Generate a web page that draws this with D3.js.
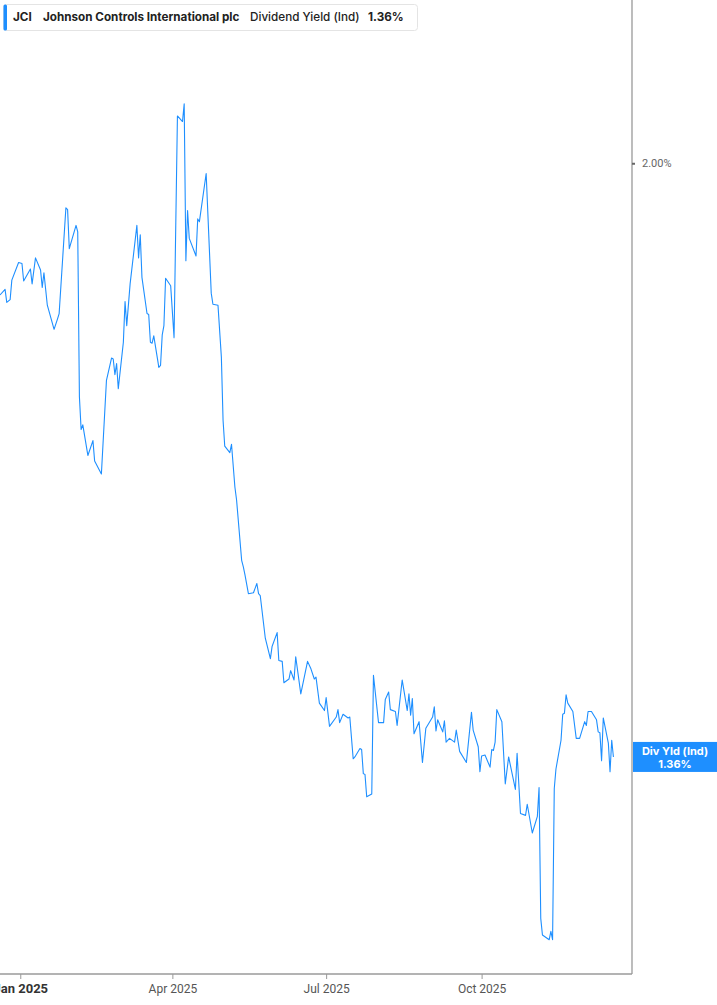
<!DOCTYPE html>
<html>
<head>
<meta charset="utf-8">
<script src="https://cdn.jsdelivr.net/npm/d3@7"></script>
<style>
  body { margin: 0; background: #fff; }
  svg { display: block; }
  .hdr { font-family: Inter, "Noto Sans", sans-serif; font-size: 11.7px; fill: #222; }
  .axisLabel { font-family: "Liberation Sans Narrow", Roboto, sans-serif; font-size: 12px; fill: #555; }
</style>
</head>
<body>
<script>
// Step 1: chart data
// =================================
var dates = [
  "2024-12-20","2024-12-23","2024-12-24","2024-12-26","2024-12-27","2024-12-31",
  "2025-01-02","2025-01-03","2025-01-07","2025-01-08","2025-01-10","2025-01-13","2025-01-14","2025-01-15",
  "2025-01-17","2025-01-21","2025-01-23","2025-01-24","2025-01-28","2025-01-29","2025-01-30",
  "2025-02-03","2025-02-04","2025-02-05","2025-02-06","2025-02-07","2025-02-10","2025-02-13","2025-02-14",
  "2025-02-18","2025-02-21","2025-02-24","2025-02-25","2025-02-26","2025-02-27","2025-02-28",
  "2025-03-03","2025-03-04","2025-03-05","2025-03-07","2025-03-11","2025-03-12","2025-03-13","2025-03-14",
  "2025-03-17","2025-03-18","2025-03-19","2025-03-20","2025-03-21","2025-03-24","2025-03-25","2025-03-26",
  "2025-03-27","2025-03-28","2025-03-31",
  "2025-04-02","2025-04-04","2025-04-07","2025-04-08","2025-04-09","2025-04-10","2025-04-11","2025-04-15",
  "2025-04-16","2025-04-17","2025-04-21","2025-04-24","2025-04-25","2025-04-28","2025-04-30",
  "2025-05-01","2025-05-02","2025-05-05","2025-05-06","2025-05-08","2025-05-09","2025-05-12","2025-05-13",
  "2025-05-14","2025-05-16","2025-05-19","2025-05-20","2025-05-21","2025-05-22","2025-05-23","2025-05-26",
  "2025-05-29","2025-05-30",
  "2025-06-02","2025-06-03","2025-06-05","2025-06-06","2025-06-09","2025-06-10","2025-06-12","2025-06-13",
  "2025-06-16","2025-06-20","2025-06-22","2025-06-24","2025-06-25","2025-06-27","2025-06-30",
  "2025-07-01","2025-07-03","2025-07-07","2025-07-08","2025-07-09","2025-07-11","2025-07-14","2025-07-15",
  "2025-07-17","2025-07-18","2025-07-21","2025-07-22","2025-07-23","2025-07-24","2025-07-25","2025-07-28",
  "2025-07-29",
  "2025-08-01","2025-08-04","2025-08-05","2025-08-07","2025-08-08","2025-08-11","2025-08-12","2025-08-15",
  "2025-08-18","2025-08-19","2025-08-20","2025-08-21","2025-08-22","2025-08-25","2025-08-27","2025-08-29",
  "2025-09-02","2025-09-03","2025-09-04","2025-09-05","2025-09-08","2025-09-09","2025-09-10","2025-09-12",
  "2025-09-15","2025-09-16","2025-09-18","2025-09-22","2025-09-25","2025-09-26","2025-09-29","2025-09-30",
  "2025-10-01","2025-10-03","2025-10-06","2025-10-07","2025-10-08","2025-10-09","2025-10-10","2025-10-13",
  "2025-10-15","2025-10-17","2025-10-21","2025-10-22","2025-10-24","2025-10-27","2025-10-28","2025-10-31",
  "2025-11-03","2025-11-04","2025-11-05","2025-11-06","2025-11-10","2025-11-11","2025-11-12","2025-11-13",
  "2025-11-14","2025-11-17","2025-11-18","2025-11-19","2025-11-20","2025-11-21","2025-11-24","2025-11-26",
  "2025-11-28",
  "2025-12-01","2025-12-02","2025-12-03","2025-12-05","2025-12-08","2025-12-09","2025-12-10","2025-12-11",
  "2025-12-12","2025-12-15","2025-12-16","2025-12-17","2025-12-18"
];

var yields = [
  1.858,1.864,1.850,1.853,1.874,1.893,
  1.892,1.873,1.886,1.870,1.898,1.885,1.866,1.882,
  1.847,1.821,1.832,1.838,1.952,1.950,1.908,
  1.933,1.926,1.748,1.713,1.718,1.685,1.701,1.679,
  1.665,1.766,1.790,1.789,1.772,1.784,1.757,
  1.807,1.851,1.825,1.870,1.933,1.898,1.923,1.877,
  1.838,1.837,1.807,1.806,1.814,1.780,1.782,1.815,
  1.825,1.876,1.868,
  1.812,2.051,2.045,2.064,1.895,1.949,1.919,1.900,
  1.940,1.937,1.989,1.860,1.848,1.847,1.791,
  1.723,1.695,1.688,1.697,1.651,1.637,1.572,1.565,
  1.556,1.536,1.537,1.542,1.547,1.536,1.534,1.488,
  1.466,1.479,
  1.494,1.464,1.463,1.440,1.444,1.453,1.443,1.468,
  1.428,1.463,1.455,1.444,1.446,1.418,1.410,
  1.424,1.393,1.403,1.411,1.397,1.406,1.402,1.403,
  1.358,1.360,1.369,1.368,1.342,1.341,1.317,1.320,
  1.448,
  1.397,1.397,1.422,1.430,1.411,1.409,1.394,1.443,
  1.410,1.428,1.405,1.423,1.385,1.398,1.354,1.391,
  1.403,1.414,1.388,1.400,1.387,1.399,1.376,1.380,
  1.376,1.389,1.366,1.354,1.408,1.389,1.371,1.344,
  1.361,1.362,1.349,1.368,1.367,1.376,1.411,1.398,
  1.331,1.360,1.325,1.364,1.299,1.297,1.309,1.278,
  1.296,1.327,1.186,1.168,1.163,1.172,1.163,1.326,
  1.347,1.378,1.406,1.407,1.427,1.418,1.409,1.380,
  1.380,
  1.398,1.394,1.409,1.409,1.400,1.387,1.386,1.356,
  1.402,1.375,1.344,1.378,1.360
];

var xTickDates = ["2025-01-01", "2025-04-01", "2025-07-01", "2025-10-01"];
var xTickLabels = ["Jan 2025", "Apr 2025", "Jul 2025", "Oct 2025"];
var yTicks = [2.00];
var lastValue = 1.36;

// Step 2: set up the svg
// =================================
var svgWidth = 717;
var svgHeight = 1005;
var plotRight = 632;
var plotBottom = 974;

var parseDate = d3.timeParse("%Y-%m-%d");

var data = dates.map(function(d, i) {
  return { date: parseDate(d), value: yields[i] };
});

var svg = d3.select("body")
  .append("svg")
  .attr("width", svgWidth)
  .attr("height", svgHeight);

// Step 3: scales
// =================================
var xTimeScale = d3.scaleTime()
  .domain([parseDate("2024-12-20"), parseDate("2025-12-29")])
  .range([0, plotRight]);

var yLinearScale = d3.scaleLinear()
  .domain([1.126, 2.176])
  .range([plotBottom, 0]);

// Step 4: axes
// =================================
var bottomAxis = d3.axisBottom(xTimeScale)
  .tickValues(xTickDates.map(parseDate))
  .tickSize(5)
  .tickFormat(function(d, i) { return xTickLabels[i]; });

var xAxisGroup = svg.append("g")
  .attr("transform", `translate(0, ${plotBottom})`)
  .call(bottomAxis);

xAxisGroup.select(".domain")
  .attr("stroke", "#b3b3b3")
  .attr("stroke-width", 2)
  .attr("d", `M0,0H${plotRight}`);

xAxisGroup.selectAll(".tick line")
  .attr("stroke", "#999");

xAxisGroup.selectAll(".tick text")
  .attr("class", "axisLabel")
  .attr("y", 10)
  .style("font-weight", (d, i) => i === 0 ? "bold" : "normal")
  .style("fill", (d, i) => i === 0 ? "#333" : "#555")
  .style("font-size", (d, i) => i === 0 ? "13px" : "12px");

var rightAxis = d3.axisRight(yLinearScale)
  .tickValues(yTicks)
  .tickSize(3)
  .tickPadding(7)
  .tickFormat(d => d3.format(".2f")(d) + "%");

var yAxisGroup = svg.append("g")
  .attr("transform", `translate(${plotRight}, 0)`)
  .call(rightAxis);

yAxisGroup.select(".domain")
  .attr("stroke", "#999")
  .attr("stroke-width", 1.3)
  .attr("d", `M0,0V${plotBottom}`);

yAxisGroup.selectAll(".tick line")
  .attr("stroke", "#666")
  .attr("stroke-width", 2);

yAxisGroup.selectAll(".tick text")
  .style("font-family", "Roboto, sans-serif")
  .style("font-size", "11px")
  .style("fill", "#666");

// Step 5: the line
// =================================
var lineGen = d3.line()
  .x(d => xTimeScale(d.date))
  .y(d => yLinearScale(d.value));

svg.append("path")
  .datum(data)
  .attr("fill", "none")
  .attr("stroke", "#1e8fff")
  .attr("stroke-width", 1.1)
  .attr("stroke-linejoin", "round")
  .attr("d", lineGen);

// last value tag on the right axis
var tagY = yLinearScale(lastValue);
var tag = svg.append("g")
  .attr("transform", `translate(${plotRight + 1}, ${tagY})`);

tag.append("rect")
  .attr("x", 0)
  .attr("y", -15)
  .attr("width", svgWidth - plotRight)
  .attr("height", 30)
  .attr("fill", "#1e8fff");

tag.append("text")
  .attr("x", 42)
  .attr("y", -2)
  .attr("text-anchor", "middle")
  .style("font-family", "Inter, sans-serif")
  .style("font-size", "11px")
  .style("font-weight", "bold")
  .style("fill", "#fff")
  .text("Div Yld (Ind)");

tag.append("text")
  .attr("x", 42)
  .attr("y", 11)
  .attr("text-anchor", "middle")
  .style("font-family", "Inter, sans-serif")
  .style("font-size", "11px")
  .style("font-weight", "bold")
  .style("fill", "#fff")
  .text(d3.format(".2f")(lastValue) + "%");

// Step 6: header legend box
// =================================
var header = svg.append("g");

header.append("rect")
  .attr("x", 3.5)
  .attr("y", 4.5)
  .attr("width", 414)
  .attr("height", 26)
  .attr("rx", 3)
  .attr("fill", "#fff")
  .attr("stroke", "#e4e4e4");

header.append("rect")
  .attr("x", 3.5)
  .attr("y", 4.5)
  .attr("width", 3.5)
  .attr("height", 26)
  .attr("rx", 1.5)
  .attr("fill", "#1e8fff");

var hdrText = [
  { x: 13, text: "JCI", weight: 700 },
  { x: 43, text: "Johnson Controls International plc", weight: 700 },
  { x: 250, text: "Dividend Yield (Ind)", weight: 500 },
  { x: 368, text: d3.format(".2f")(lastValue) + "%", weight: 700 }
];

header.selectAll("text")
  .data(hdrText)
  .enter()
  .append("text")
  .attr("class", "hdr")
  .attr("x", d => d.x)
  .attr("y", 21)
  .style("font-weight", d => d.weight)
  .text(d => d.text);
</script>
</body>
</html>
